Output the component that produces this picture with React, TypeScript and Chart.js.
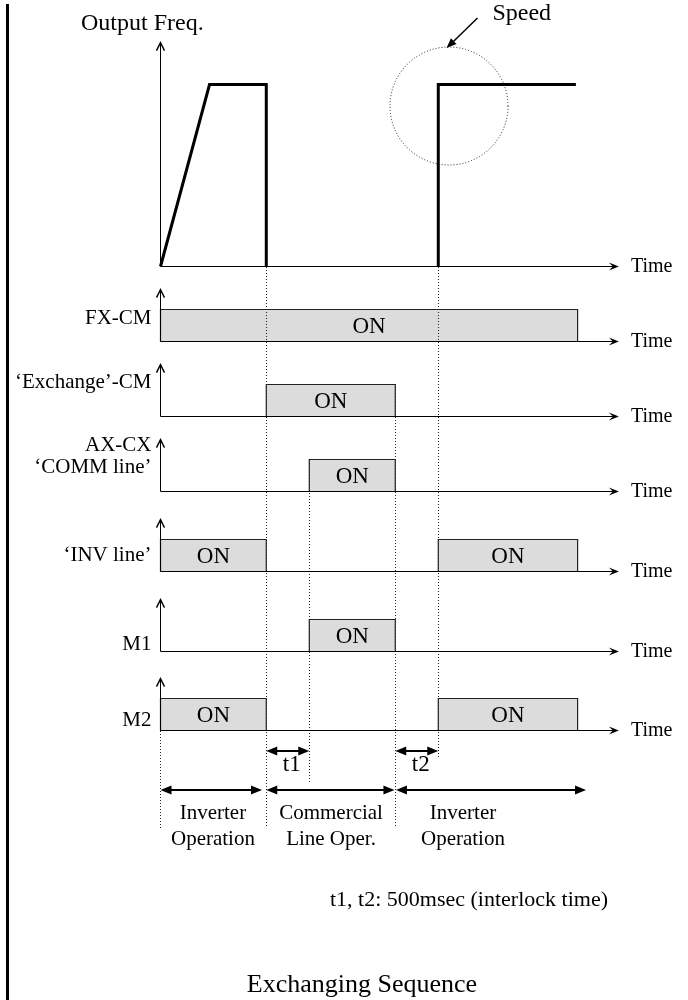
import React, { useEffect, useRef } from "react";
import { Chart, registerables } from "chart.js";

Chart.register(...registerables);

// ---------- DATA (time in ms) ----------
const freqRunTimes = [0, 570, 1230, 1230];
const freqRunLevels = [0, 100, 100, 0]; // % of output frequency
const freqRestartTimes = [3230, 3230, 4830];
const freqRestartLevels = [0, 100, 100];

const signalLabels = [["FX-CM"], ["‘Exchange’-CM"], ["AX-CX", "‘COMM line’"], ["‘INV line’"], ["M1"], ["M2"]];
const signalOnIntervals: number[][][] = [
  [[0, 4850]],
  [[1230, 2730]],
  [[1730, 2730]],
  [[0, 1230], [3230, 4850]],
  [[1730, 2730]],
  [[0, 1230], [3230, 4850]],
];
const onText = "ON";
const timeAxisEnd = 5330;
const interlockNames = ["t1", "t2"];
const interlockFrom = [1230, 2730];
const interlockTo = [1730, 3230];
const periodNames = [["Inverter", "Operation"], ["Commercial", "Line Oper."], ["Inverter", "Operation"]];
const periodFrom = [0, 1230, 2738];
const periodTo = [1180, 2720, 4948];
const periodLabelAt = [610, 1983, 3517];
const axisTitle = "Output Freq.";
const timeTitle = "Time";
const speedText = "Speed";
const noteText = "t1, t2: 500msec (interlock time)";
const chartTitle = "Exchanging Sequence";

// ---------- LAYOUT ----------
const CW = 688;
const CH = 1000;
const ORIGIN_X = 160.5;
const PX_PER_MS = 0.086;
const FREQ_BASE = 266.5;
const FREQ_PX_PER_PCT = 1.82;
const FREQ_ARROW_TOP = 123;
const ROW_BASES = [341.5, 416.5, 491.5, 571.5, 651.5, 730.5];
const ROW_ON_PX = 32;
const ROW_ARROW_TOP = 1.62;
const ROW_LABEL_LEVELS = [[0.72], [1.06], [1.45, 0.76], [0.5], [0.22], [0.32]];
const FONT = '"Liberation Serif", "Times New Roman", serif';

function yScale(base: number, pxPerUnit: number) {
  const min = -(CH - base) / pxPerUnit;
  return { type: "linear", display: false, bounds: "data", min, max: min + CH / pxPerUnit };
}

const annotate = {
  id: "annotate",
  afterDatasetsDraw(chart: any) {
    const ctx: CanvasRenderingContext2D = chart.ctx;
    const xs = chart.scales.x;
    const X = (t: number) => xs.getPixelForValue(t);
    const snap = (v: number) => Math.round(v - 0.5) + 0.5;
    const fy = chart.scales.yFreq;
    const rowY = (r: number, v: number) => chart.scales["yRow" + r].getPixelForValue(v);

    const text = (s: string, x: number, y: number, size: number, align: CanvasTextAlign = "left") => {
      ctx.font = `${size}px ${FONT}`;
      ctx.textAlign = align;
      ctx.textBaseline = "middle";
      ctx.fillStyle = "#000";
      ctx.fillText(s, x, y);
    };
    const line = (x1: number, y1: number, x2: number, y2: number, w = 1, dash: number[] = [], color = "#000") => {
      ctx.save();
      ctx.strokeStyle = color;
      ctx.lineWidth = w;
      ctx.setLineDash(dash);
      ctx.beginPath();
      ctx.moveTo(x1, y1);
      ctx.lineTo(x2, y2);
      ctx.stroke();
      ctx.restore();
    };
    const barbRight = (x: number, y: number) => {
      ctx.fillStyle = "#000";
      ctx.beginPath();
      ctx.moveTo(x, y);
      ctx.lineTo(x - 10, y - 4);
      ctx.lineTo(x - 6, y);
      ctx.lineTo(x - 10, y + 4);
      ctx.closePath();
      ctx.fill();
    };
    const barbUp = (x: number, y: number) => {
      ctx.save();
      ctx.strokeStyle = "#000";
      ctx.lineWidth = 1.4;
      ctx.beginPath();
      ctx.moveTo(x - 4, y + 8);
      ctx.lineTo(x, y);
      ctx.lineTo(x + 4, y + 8);
      ctx.stroke();
      ctx.restore();
    };
    const tri = (x: number, y: number, dir: number, len = 11, half = 4.5) => {
      ctx.fillStyle = "#000";
      ctx.beginPath();
      ctx.moveTo(x, y);
      ctx.lineTo(x - dir * len, y - half);
      ctx.lineTo(x - dir * len, y + half);
      ctx.closePath();
      ctx.fill();
    };
    const dblArrow = (x1: number, x2: number, y: number) => {
      line(x1 + 6, y, x2 - 6, y, 2);
      tri(x1, y, -1);
      tri(x2, y, 1);
    };
    const dotted = (t: number, yTop: number, yBot: number) => {
      const x = snap(X(t));
      line(x, Math.round(yTop), x, Math.round(yBot), 1, [1, 2], "#222");
    };

    // left page bar
    ctx.fillStyle = "#000";
    ctx.fillRect(6, 4, 3, CH - 4);

    const x0 = X(0);
    const xEnd = X(timeAxisEnd);

    // dotted guide lines
    dotted(0, ROW_BASES[5], 830);
    dotted(1230, FREQ_BASE, 827);
    dotted(1730, rowY(2, 1), 783);
    dotted(2730, rowY(1, 1), 827);
    dotted(3230, FREQ_BASE, 757);

    // frequency axes
    line(x0, fy.getPixelForValue(0), x0, fy.getPixelForValue(FREQ_ARROW_TOP), 1);
    barbUp(x0, fy.getPixelForValue(FREQ_ARROW_TOP));
    line(x0, FREQ_BASE, xEnd - 5, FREQ_BASE, 1);
    barbRight(xEnd, FREQ_BASE);
    text(timeTitle, xEnd + 12, FREQ_BASE, 20);
    text(axisTitle, 81, 24, 24);

    // speed circle & arrow
    const cx = X(3349);
    const cy = fy.getPixelForValue(88.2);
    ctx.save();
    ctx.strokeStyle = "#222";
    ctx.lineWidth = 1;
    ctx.setLineDash([1, 2]);
    ctx.beginPath();
    ctx.arc(Math.round(cx), Math.round(cy), 59, 0, Math.PI * 2);
    ctx.stroke();
    ctx.restore();
    const ax1 = X(3686), ay1 = fy.getPixelForValue(136.5);
    const ax2 = X(3326), ay2 = fy.getPixelForValue(120);
    const ang = Math.atan2(ay2 - ay1, ax2 - ax1);
    line(ax1, ay1, ax2 - Math.cos(ang) * 6, ay2 - Math.sin(ang) * 6, 1.5);
    ctx.save();
    ctx.translate(ax2, ay2);
    ctx.rotate(ang);
    tri(0, 0, 1, 10, 4);
    ctx.restore();
    text(speedText, X(3860), 14, 24);

    // signal rows
    signalLabels.forEach((lbls, r) => {
      const base = ROW_BASES[r];
      const top = rowY(r, ROW_ARROW_TOP);
      line(x0, base, x0, top, 1);
      barbUp(x0, top);
      line(x0, base, xEnd - 5, base, 1);
      barbRight(xEnd, base);
      text(timeTitle, xEnd + 12, base, 20);
      lbls.forEach((s, k) => text(s, x0 - 9, rowY(r, ROW_LABEL_LEVELS[r][k]), 21, "right"));
      signalOnIntervals[r].forEach(([a, b]) => {
        text(onText, (X(a) + X(b)) / 2, rowY(r, 0.5) + 1, 23, "center");
      });
    });

    // interlock arrows
    interlockNames.forEach((n, i) => {
      const a = X(interlockFrom[i]);
      const b = X(interlockTo[i]);
      dblArrow(a, b, 751);
      text(n, (a + b) / 2 + 4, 765, 23, "center");
    });

    // period arrows
    periodNames.forEach((lines, i) => {
      dblArrow(X(periodFrom[i]), X(periodTo[i]), 790);
      lines.forEach((s, k) => text(s, X(periodLabelAt[i]), 813 + k * 26, 21, "center"));
    });

    text(noteText, 330, 900, 22);
    text(chartTitle, 362, 985, 26, "center");
  },
};

export default function App() {
  const ref = useRef<HTMLCanvasElement | null>(null);
  useEffect(() => {
    if (!ref.current) return;
    const datasets: any[] = [
      {
        data: freqRunTimes.map((t, i) => ({ x: t, y: freqRunLevels[i] })),
        yAxisID: "yFreq",
        borderColor: "#000",
        borderWidth: 3,
        fill: false,
      },
      {
        data: freqRestartTimes.map((t, i) => ({ x: t, y: freqRestartLevels[i] })),
        yAxisID: "yFreq",
        borderColor: "#000",
        borderWidth: 3,
        fill: false,
      },
    ];
    signalOnIntervals.forEach((ivs, r) => {
      ivs.forEach(([a, b]) => {
        datasets.push({
          data: [
            { x: a, y: 0 },
            { x: a, y: 1 },
            { x: b, y: 1 },
            { x: b, y: 0 },
          ],
          yAxisID: "yRow" + r,
          borderColor: "#222",
          borderWidth: 1.2,
          backgroundColor: "#dcdcdc",
          fill: { value: 0 },
        });
      });
    });
    const scales: any = {
      x: { type: "linear", display: false, bounds: "data", min: -ORIGIN_X / PX_PER_MS, max: (CW - ORIGIN_X) / PX_PER_MS },
      yFreq: yScale(FREQ_BASE, FREQ_PX_PER_PCT),
    };
    ROW_BASES.forEach((b, r) => {
      scales["yRow" + r] = yScale(b, ROW_ON_PX);
    });
    const chart = new Chart(ref.current, {
      type: "line",
      data: { datasets },
      options: {
        animation: false,
        responsive: false,
        events: [],
        layout: { padding: 0 },
        elements: {
          point: { radius: 0 },
          line: { tension: 0, borderJoinStyle: "miter", borderCapStyle: "butt" },
        },
        plugins: { legend: { display: false }, tooltip: { enabled: false }, title: { display: false } },
        scales,
      },
      plugins: [annotate],
    } as any);
    return () => chart.destroy();
  }, []);
  return (
    <div style={{ position: "absolute", left: 0, top: 0, width: CW, height: CH, background: "#fff" }}>
      <canvas ref={ref} width={CW} height={CH} style={{ display: "block" }} />
    </div>
  );
}
